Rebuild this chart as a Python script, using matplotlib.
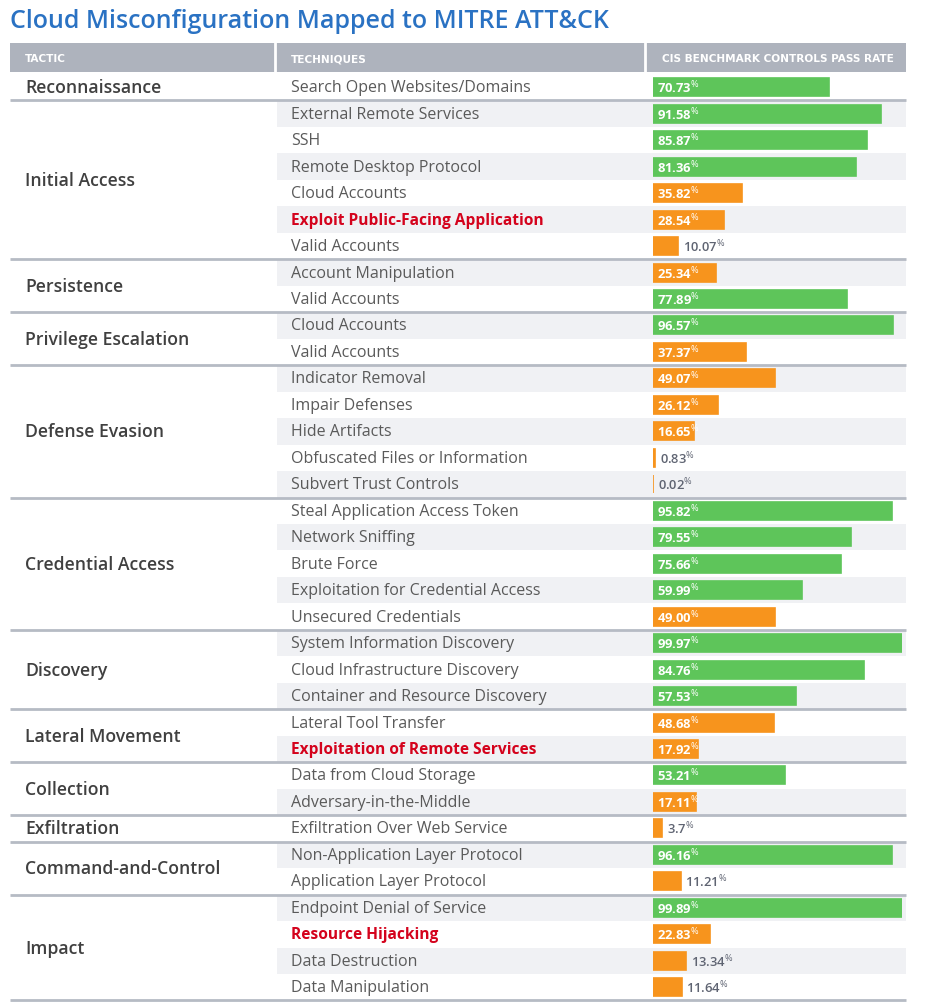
import matplotlib
matplotlib.use("Agg")
import matplotlib.pyplot as plt

plt.rcParams['font.family'] = ['Open Sans', 'DejaVu Sans']
plt.rcParams['mathtext.fontset'] = 'custom'
plt.rcParams['mathtext.rm'] = 'Open Sans'
plt.rcParams['mathtext.bf'] = 'Open Sans:bold'

# data
tactics = ['Reconnaissance', 'Initial Access', 'Persistence', 'Privilege Escalation',
           'Defense Evasion', 'Credential Access', 'Discovery', 'Lateral Movement',
           'Collection', 'Exfiltration', 'Command-and-Control', 'Impact']
group_sizes = [1, 6, 2, 2, 5, 5, 3, 2, 2, 1, 2, 4]
techniques = ['Search Open Websites/Domains',
              'External Remote Services', 'SSH', 'Remote Desktop Protocol', 'Cloud Accounts',
              'Exploit Public-Facing Application', 'Valid Accounts',
              'Account Manipulation', 'Valid Accounts',
              'Cloud Accounts', 'Valid Accounts',
              'Indicator Removal', 'Impair Defenses', 'Hide Artifacts',
              'Obfuscated Files or Information', 'Subvert Trust Controls',
              'Steal Application Access Token', 'Network Sniffing', 'Brute Force',
              'Exploitation for Credential Access', 'Unsecured Credentials',
              'System Information Discovery', 'Cloud Infrastructure Discovery',
              'Container and Resource Discovery',
              'Lateral Tool Transfer', 'Exploitation of Remote Services',
              'Data from Cloud Storage', 'Adversary-in-the-Middle',
              'Exfiltration Over Web Service',
              'Non-Application Layer Protocol', 'Application Layer Protocol',
              'Endpoint Denial of Service', 'Resource Hijacking', 'Data Destruction',
              'Data Manipulation']
rate_text = ['70.73',
             '91.58', '85.87', '81.36', '35.82', '28.54', '10.07',
             '25.34', '77.89',
             '96.57', '37.37',
             '49.07', '26.12', '16.65', '0.83', '0.02',
             '95.82', '79.55', '75.66', '59.99', '49.00',
             '99.97', '84.76', '57.53',
             '48.68', '17.92',
             '53.21', '17.11',
             '3.7',
             '96.16', '11.21',
             '99.89', '22.83', '13.34', '11.64']
rates = [float(s) for s in rate_text]
highlighted = ['Exploit Public-Facing Application', 'Exploitation of Remote Services',
               'Resource Hijacking']

W, H = 936, 1003
fig = plt.figure(figsize=(W / 100, H / 100), dpi=100)
ax = fig.add_axes([0, 0, 1, 1])
ax.set_xlim(0, W)
ax.set_ylim(H, 0)
ax.axis('off')

n = len(techniques)
top = 75.0
row_h = 26.47
left, right = 10, 906
col2, col3 = 277, 646
bar_x0, bar_w = 653, 249

header_col = '#aeb3bd'
line_col = '#b6bbc4'
stripe_col = '#f0f1f4'
green = '#5ec55a'
orange = '#f7941d'

fig.text(10 / W, 1 - 21 / H, 'Cloud Misconfiguration Mapped to MITRE ATT&CK',
         color='#2a72c3', fontsize=18, fontweight='semibold', va='center', ha='left')

# header
ax.add_patch(plt.Rectangle((left, 44), right - left, 29, color=header_col, lw=0))
for xs in [col2 - 2, col3 - 1]:
    ax.plot([xs, xs], [44, 73], color='white', lw=2)
for x, t in [(25, 'TACTIC'), (291, 'TECHNIQUES'), (662, 'CIS BENCHMARK CONTROLS PASS RATE')]:
    ax.text(x, 59, t, color='white', fontsize=7.6, fontweight='bold', va='center', ha='left',
            family='DejaVu Sans')

# stripes and technique text
for i, tech in enumerate(techniques):
    y0 = top + i * row_h
    if i % 2 == 1:
        ax.add_patch(plt.Rectangle((col2, y0), right - col2, row_h, color=stripe_col, lw=0))
    yc = y0 + row_h / 2
    if tech in highlighted:
        ax.text(291, yc, tech, color='#d4021c', fontsize=11.2, fontweight='bold', va='center')
    else:
        ax.text(291, yc, tech, color='#5a5a5a', fontsize=11.5, va='center')

# tactic labels and group lines
start = 0
for tac, size in zip(tactics, group_sizes):
    yc = top + (start + size / 2) * row_h
    ax.text(25, yc, tac, color='#404040', fontsize=12.7, fontweight='semibold', va='center')
    start += size
    yl = top + start * row_h
    ax.plot([left, right], [yl, yl], color=line_col, lw=2, solid_capstyle='butt')

# bars
bax = fig.add_axes([bar_x0 / W, 1 - (top + n * row_h) / H, bar_w / W, n * row_h / H])
bax.set_xlim(0, 100)
bax.set_ylim(n, 0)
bax.axis('off')
ypos = [i + 0.5 for i in range(n)]
colors = [green if r >= 50 else orange for r in rates]
bax.barh(ypos, rates, height=0.68, color=colors, edgecolor=colors, lw=1.2)
for y, r, s in zip(ypos, rates, rate_text):
    if r >= 15:
        bax.text(1.6, y, s + r'$^{\%}$', color='white', fontsize=9.4, fontweight='bold',
                 va='center', ha='left')
    else:
        bax.text(r + 1.8, y, s + r'$^{\%}$', color='#5f6472', fontsize=9.4,
                 fontweight='semibold', va='center', ha='left')

fig.savefig('out.png', dpi=100, facecolor='white')
